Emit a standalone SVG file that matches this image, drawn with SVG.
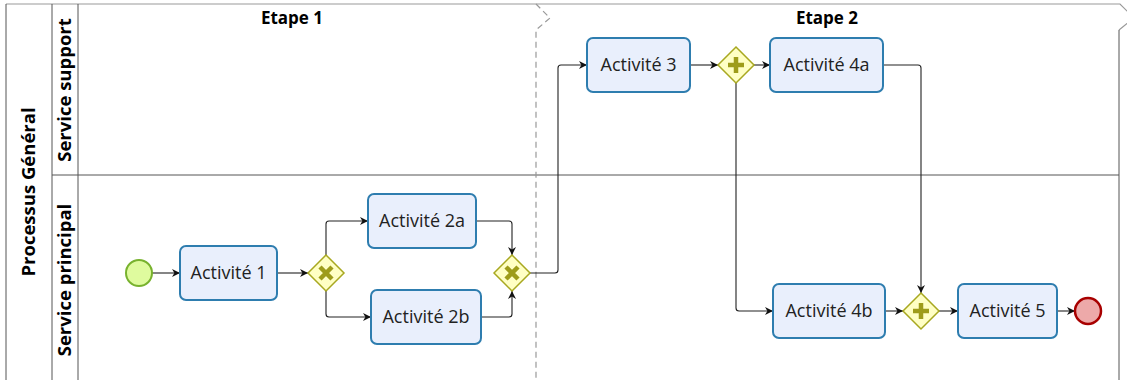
<svg xmlns="http://www.w3.org/2000/svg" width="1127" height="380" viewBox="0 0 1127 380">
<style>
.frame{fill:none;stroke:#555;stroke-width:1}
.top{fill:none;stroke:#999;stroke-width:1.2}
.stage{fill:none;stroke:#999;stroke-width:1.2;stroke-dasharray:6,4}
.hdr{font-family:"Open Sans","Noto Sans",sans-serif;font-weight:bold;font-size:17px;fill:#000;text-anchor:middle}
.lane{font-family:"Open Sans","Noto Sans",sans-serif;font-weight:bold;font-size:18.5px;fill:#000;text-anchor:middle}
.task rect{fill:#E9EFFC;stroke:#2E7DAF;stroke-width:2}
.task text{font-family:"Open Sans","Noto Sans",sans-serif;font-size:18px;fill:#222;text-anchor:middle}
.gw polygon{fill:#FFFFC4;stroke:#A8A820;stroke-width:1.5}
.mark{stroke:#9E9C1A;stroke-width:4.5;stroke-linecap:butt}
.flow{fill:none;stroke:#222;stroke-width:1.1;marker-end:url(#arr)}
</style>
<defs>
<marker id="arr" viewBox="0 0 10 10" refX="10" refY="5" markerWidth="8" markerHeight="8" markerUnits="userSpaceOnUse" orient="auto">
<path d="M0,0 L10,5 L0,10 L3,5 z" fill="#111"/>
</marker>
</defs>
<rect x="0" y="0" width="1127" height="380" fill="#fff"/>
<g id="pool">
<path class="top" d="M6,4 H1120 L1134,18 L1119,30"/>
<path class="frame" d="M6,4 V380 M52,4 V380 M78,4 V380 M52,175 H1119 M1119,30 V380"/>
<path class="stage" d="M536,4 L550,18 L536,30 V380"/>
<text class="lane" font-size="18" transform="translate(35,192) rotate(-90)">Processus Général</text>
<text class="lane" transform="translate(71,90) rotate(-90)">Service support</text>
<text class="lane" transform="translate(71,280) rotate(-90)">Service principal</text>
<text class="hdr" x="292" y="24">Etape 1</text>
<text class="hdr" x="827" y="24">Etape 2</text>
</g>
<g id="connectors">
<path class="flow" d="M152,273 H180"/>
<path class="flow" d="M277,273 H308"/>
<path class="flow" d="M326,255 V224 Q326,221 329,221 H368"/>
<path class="flow" d="M326,291 V314 Q326,317 329,317 H371"/>
<path class="flow" d="M476,221 H509 Q512,221 512,224 V255"/>
<path class="flow" d="M481,317 H509 Q512,317 512,314 V291"/>
<path class="flow" d="M530,273 H555 Q558,273 558,270 V68 Q558,65 561,65 H587"/>
<path class="flow" d="M690,65 H718"/>
<path class="flow" d="M754,65 H770"/>
<path class="flow" d="M883,65 H918 Q921,65 921,68 V293"/>
<path class="flow" d="M736,83 V308 Q736,311 739,311 H773"/>
<path class="flow" d="M885,311 H903"/>
<path class="flow" d="M939,311 H958"/>
<path class="flow" d="M1057,311 H1075"/>
</g>
<g id="start"><circle cx="139" cy="273" r="13" fill="#DFFB9E" stroke="#78B22E" stroke-width="2"/></g>
<g id="end"><circle cx="1088" cy="311" r="13" fill="#EDA9A9" stroke="#A80000" stroke-width="2.5"/></g>
<g id="act1" class="task"><rect x="180" y="246" width="97" height="54" rx="6"/><text x="228.5" y="279">Activité 1</text></g>
<g id="act2a" class="task"><rect x="368" y="194" width="108" height="54" rx="6"/><text x="422" y="227">Activité 2a</text></g>
<g id="act2b" class="task"><rect x="371" y="290" width="110" height="54" rx="6"/><text x="426" y="323">Activité 2b</text></g>
<g id="act3" class="task"><rect x="587" y="38" width="103" height="54" rx="6"/><text x="638.5" y="71">Activité 3</text></g>
<g id="act4a" class="task"><rect x="770" y="38" width="113" height="54" rx="6"/><text x="826.5" y="71">Activité 4a</text></g>
<g id="act4b" class="task"><rect x="773" y="284" width="112" height="54" rx="6"/><text x="829" y="317">Activité 4b</text></g>
<g id="act5" class="task"><rect x="958" y="284" width="99" height="54" rx="6"/><text x="1007.5" y="317">Activité 5</text></g>
<g id="gw1" class="gw"><polygon points="326,255 344,273 326,291 308,273"/><path class="mark" d="M320,267 L332,279 M332,267 L320,279"/></g>
<g id="gw2" class="gw"><polygon points="512,255 530,273 512,291 494,273"/><path class="mark" d="M506,267 L518,279 M518,267 L506,279"/></g>
<g id="gw3" class="gw"><polygon points="736,47 754,65 736,83 718,65"/><path class="mark" d="M736,57 V73 M728,65 H744"/></g>
<g id="gw4" class="gw"><polygon points="921,293 939,311 921,329 903,311"/><path class="mark" d="M921,303 V319 M913,311 H929"/></g>
</svg>
